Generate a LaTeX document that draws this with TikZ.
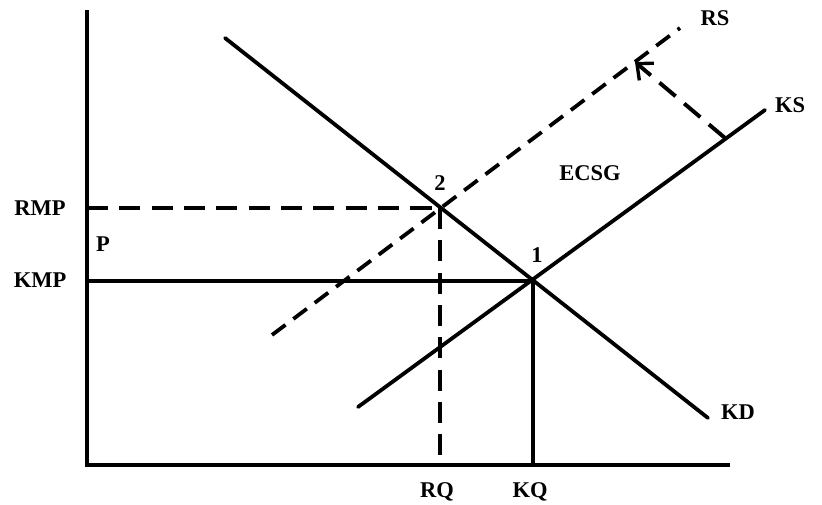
\documentclass[tikz,border=0pt]{standalone}
\usepackage{fontspec}
\setmainfont{Liberation Serif}
\usetikzlibrary{arrows.meta,positioning,calc}
\tikzset{
  axisline/.style={line width=3.3pt},
  curveline/.style={line width=2.7pt},
  dashline/.style={line width=2.8pt,dash pattern=on 15pt off 8pt},
  rsline/.style={line width=2.7pt,dash pattern=on 12pt off 7pt},
  lbl/.style={font=\fontsize{16}{18}\selectfont\bfseries,inner sep=0pt}
}
\begin{document}
\begin{tikzpicture}[x=0.025cm,y=0.025cm]
\useasboundingbox (0,0) rectangle (822,505);
% points
\coordinate (O) at (87,40);
\coordinate (Ytop) at (87,495);
\coordinate (Xend) at (730,40);
\coordinate (KDa) at (225,467);
\coordinate (KDb) at (708,87);
\coordinate (KSa) at (358,98);
\coordinate (KSb) at (765,395);
\coordinate (RSa) at (272,170);
\coordinate (RSb) at (680,477);
\coordinate (E1) at (533,224);
\coordinate (E2) at (440,297);
\coordinate (ShiftA) at (725,367);
\coordinate (ShiftB) at (635,443);
% axes
\draw[axisline] (Ytop) -- (O) -- (Xend);
% guide lines
\draw[curveline] (O |- E1) -- (E1) -- (E1 |- O);
\draw[dashline] (O |- E2) -- (E2);
\draw[dashline] (E2) -- (E2 |- O);
% demand and supply
\draw[curveline,line cap=round] (KDa) -- (KDb);
\draw[curveline,line cap=round] (KSa) -- (KSb);
\draw[rsline] (RSa) -- (RSb);
\draw[dashline,-{Straight Barb[length=9pt,width=16pt,line width=2.4pt]}] (ShiftA) -- (ShiftB);
% labels
\node[lbl] (rs) at (715,487) {RS};
\node[lbl] (ks) at (790,400) {KS};
\node[lbl] (kd) at (738,93) {KD};
\node[lbl] (ecsg) at (590,332) {ECSG};
\node[lbl] (n2) at (440,322) {2};
\node[lbl] (n1) at (537,250) {1};
\node[lbl] (rmp) at (40,297) {RMP};
\node[lbl] (p) at (103,261) {P};
\node[lbl] (kmp) at (40,225) {KMP};
\node[lbl] (rq) at (437,13) {RQ};
\node[lbl] (kq) at (530,13) {KQ};
\end{tikzpicture}
\end{document}
